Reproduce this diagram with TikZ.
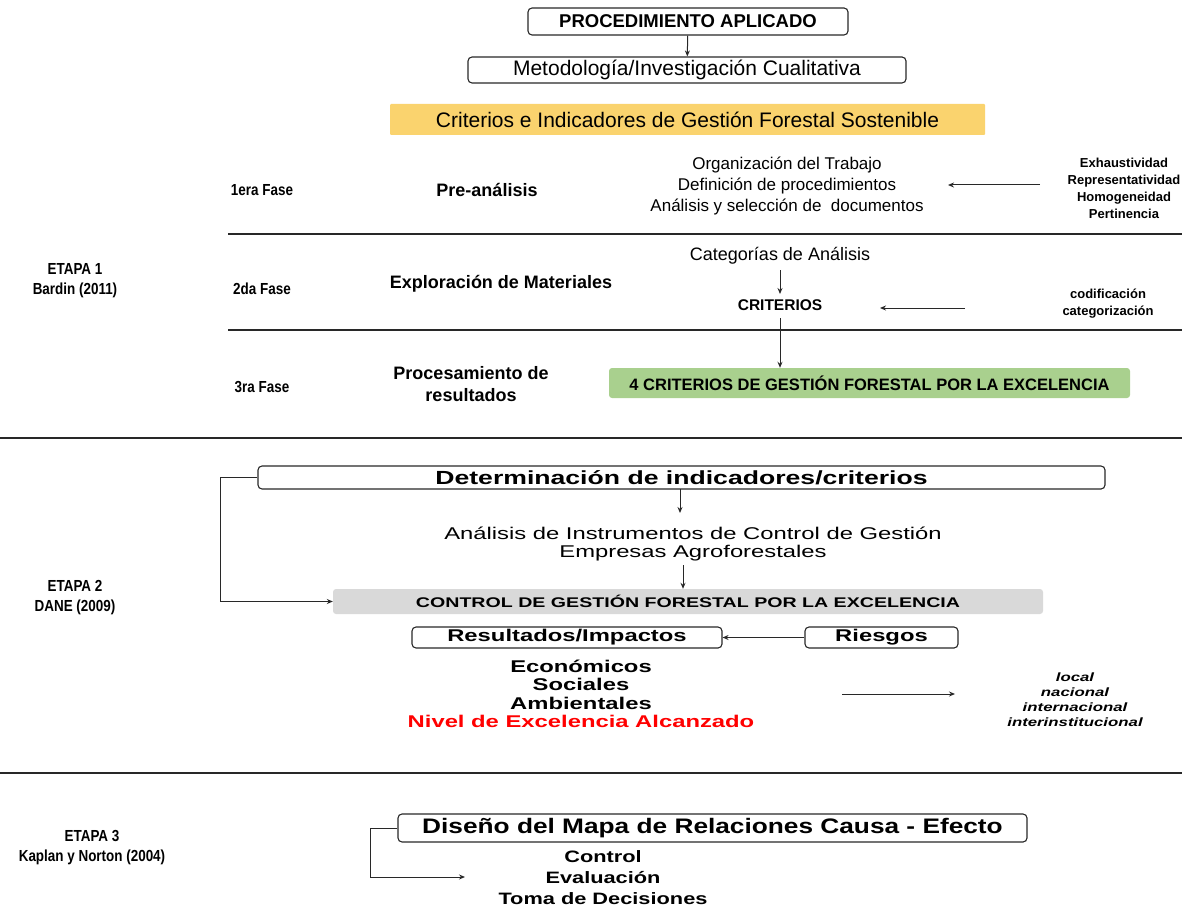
\documentclass[tikz,border=0pt]{standalone}
\usepackage{fontspec}
\setmainfont{Liberation Sans}
\newfontfamily\wideA[FakeStretch=1.4]{Liberation Sans}
\newfontfamily\wideB[FakeStretch=1.25]{Liberation Sans}
\newfontfamily\wideC[FakeStretch=1.32]{Liberation Sans}
\newfontfamily\narrowA[FakeStretch=0.84]{Liberation Sans}
\usetikzlibrary{arrows.meta}
\newcommand{\fsz}[2]{\fontsize{#1}{#2}\selectfont}
\definecolor{yel}{RGB}{250,211,110}
\definecolor{grn}{RGB}{169,208,142}
\definecolor{gry}{RGB}{217,217,217}
\definecolor{lin}{RGB}{40,40,40}
\tikzset{
  rbox/.style={draw=lin, rounded corners=4pt, line width=1.1pt, inner sep=0pt},
  fbox/.style={rounded corners=3pt, inner sep=0pt},
  arr/.style={-{Stealth[length=6pt,width=5pt]}, line width=1pt, draw=lin},
  sep/.style={line width=1.6pt, draw=lin},
  lbl/.style={align=center, inner sep=0pt},
  etapa/.style={lbl, font=\fsz{16}{20}\narrowA\bfseries},
  fase/.style={lbl, font=\fsz{16}{20}\narrowA\bfseries},
  mid/.style={lbl, font=\fsz{18}{22}\bfseries},
}
\begin{document}
\begin{tikzpicture}[x=1pt,y=-1pt]
\useasboundingbox (0,0) rectangle (1182,909);
% --- top
\node[rbox, minimum width=320pt, minimum height=27pt, font=\fsz{18.5}{20}\bfseries] (proc) at (688,21.5) {PROCEDIMIENTO APLICADO};
\node[rbox, minimum width=438pt, minimum height=26pt, font=\fsz{21}{22}] (meto) at (687,70) {Metodología/Investigación Cualitativa};
\node[fbox, fill=yel, rounded corners=1pt, minimum width=595pt, minimum height=31pt, font=\fsz{21}{22}] (crit) at (687.5,119.5) {Criterios e Indicadores de Gestión Forestal Sostenible};
\draw[arr] (proc) -- (meto);
% --- etapa 1
\node[etapa] (et1) at (75,281) {ETAPA 1\\Bardin (2011)};
\node[fase] (f1) at (262,190) {1era Fase};
\node[mid] (pre) at (487,190) {Pre-análisis};
\node[lbl, font=\fsz{17}{21}] (org) at (787,186) {Organización del Trabajo\\Definición de procedimientos\\Análisis y selección de\ \ documentos};
\node[lbl, font=\fsz{13}{17}\bfseries] (exh) at (1124,188) {Exhaustividad\\Representatividad\\Homogeneidad\\Pertinencia};
\coordinate (exhA) at (1040,185);
\coordinate (orgA) at (948,185);
\draw[arr] (exhA) -- (orgA);
\draw[sep] (228,234) -- (1182,234);
\node[fase] (f2) at (262,289) {2da Fase};
\node[mid] (expl) at (501,284) {Exploración de Materiales};
\node[lbl, font=\fsz{18}{20}] (cat) at (780,256) {Categorías de Análisis};
\node[lbl, font=\fsz{15.5}{18}\bfseries] (cri) at (780,305) {CRITERIOS};
\coordinate (catS) at (780,270);
\coordinate (criN) at (780,294);
\draw[arr] (catS) -- (criN);
\node[lbl, font=\fsz{13}{17}\bfseries] (cod) at (1108,304) {codificación\\categorización};
\coordinate (codA) at (965,308);
\coordinate (criA) at (880,308);
\draw[arr] (codA) -- (criA);
\draw[sep] (228,330) -- (1182,330);
\node[fase] (f3) at (262,387) {3ra Fase};
\node[mid] (proc2) at (471,384) {Procesamiento de\\resultados};
\node[fbox, fill=grn, minimum width=521pt, minimum height=30pt, font=\fsz{16.5}{18}\bfseries] (green) at (869.5,383) {4 CRITERIOS DE GESTIÓN FORESTAL POR LA EXCELENCIA};
\coordinate (criS) at (780,318);
\draw[arr] (criS) -- (criS |- green.north);
\draw[sep, line width=2.4pt] (0,438) -- (1182,438);
% --- etapa 2
\node[etapa] (et2) at (75,598) {ETAPA 2\\DANE (2009)};
\node[rbox, minimum width=847pt, minimum height=23pt, font=\fsz{19}{20}\wideA\bfseries] (det) at (681.5,477.5) {Determinación de indicadores/criterios};
\node[lbl, font=\fsz{17}{18.5}\wideA] (anal) at (693,544) {Análisis de Instrumentos de Control de Gestión\\Empresas Agroforestales};
\node[fbox, fill=gry, minimum width=710pt, minimum height=25pt, font=\fsz{14}{16}\wideA\bfseries] (gray) at (688,601.5) {CONTROL DE GESTIÓN FORESTAL POR LA EXCELENCIA};
\coordinate (detS) at (680,489);
\coordinate (analN) at (680,513);
\draw[arr] (detS) -- (analN);
\coordinate (analS) at (683,565);
\draw[arr] (analS) -- (analS |- gray.north);
\draw[arr] (det.west) -- (220,477.5) |- (gray.west);
\node[rbox, minimum width=310pt, minimum height=21pt, font=\fsz{17}{18}\wideA\bfseries] (res) at (567,637.5) {Resultados/Impactos};
\node[rbox, minimum width=153pt, minimum height=21pt, font=\fsz{17}{18}\wideA\bfseries] (ries) at (881.5,637.5) {Riesgos};
\draw[arr] (ries) -- (res);
\node[lbl, font=\fsz{17}{18.5}\wideA\bfseries] (econ) at (581,694) {Económicos\\Sociales\\Ambientales\\\textcolor{red}{Nivel de Excelencia Alcanzado}};
\coordinate (econA) at (842,694);
\coordinate (locA) at (955,694);
\draw[arr] (econA) -- (locA);
\node[lbl, font=\fsz{12}{15}\wideA\bfseries\itshape] (loc) at (1075,700) {local\\nacional\\internacional\\interinstitucional};
\draw[sep, line width=2.4pt] (0,773) -- (1182,773);
% --- etapa 3
\node[etapa] (et3) at (92,848) {ETAPA 3\\Kaplan y Norton (2004)};
\node[rbox, minimum width=629pt, minimum height=28pt, font=\fsz{21}{22}\wideB\bfseries] (dis) at (712.5,828) {Diseño del Mapa de Relaciones Causa - Efecto};
\node[lbl, font=\fsz{16.5}{21}\wideC\bfseries] (ctl) at (603,878) {Control\\Evaluación\\Toma de Decisiones};
\coordinate (ctlA) at (465,877);
\draw[arr] (dis.west) -- (370,828) |- (ctlA);
\end{tikzpicture}
\end{document}
